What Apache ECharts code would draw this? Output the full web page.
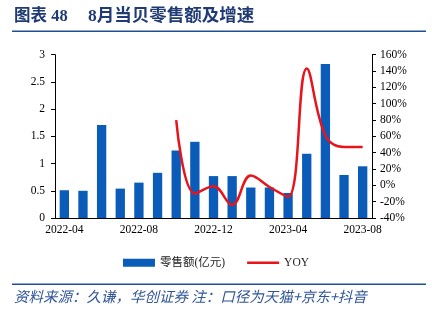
<!DOCTYPE html>
<html><head><meta charset="utf-8">
<script src="https://cdn.jsdelivr.net/npm/echarts@6/dist/echarts.min.js"></script>
<style>html,body{margin:0;padding:0;background:#fff}#c{width:432px;height:323px}</style>
</head><body><div id="c"></div>
<script>
const categories = ['2022-04','2022-05','2022-06','2022-07','2022-08','2022-09','2022-10','2022-11','2022-12','2023-01','2023-02','2023-03','2023-04','2023-05','2023-06','2023-07','2023-08'];
const sales = [0.51,0.50,1.71,0.54,0.65,0.83,1.24,1.40,0.77,0.77,0.56,0.56,0.46,1.18,2.83,0.79,0.95];
const yoy = [null,null,null,null,null,null,80,-10,-1,-24,12,-2,-14,143,61,47,47];
const leftTicks = {min:0,max:3,interval:0.5};
const rightTicks = {min:-40,max:160,interval:20};

const serif = '"Liberation Serif","Times New Roman","Noto Sans CJK SC",serif';
const blue = '#1F4E96';
const chart = echarts.init(document.getElementById('c'));
chart.setOption({
  animation:false,
  textStyle:{fontFamily:serif},
  graphic:[
    {type:'text',left:14,top:8,style:{text:'图表 48',font:'bold 16.5px "Liberation Serif","Noto Sans CJK SC",serif',fill:'#1F3A74'}},
    {type:'text',left:88,top:8,style:{text:'8月当贝零售额及增速',font:'bold 17.5px "Liberation Serif","Noto Sans CJK SC",serif',fill:'#1F3A74'}},
    {type:'rect',shape:{x:12,y:30.5,width:414,height:1.5},style:{fill:blue}},
    {type:'rect',shape:{x:12,y:283.5,width:414,height:1.5},style:{fill:blue}},
    {type:'text',left:14,top:289,style:{text:'资料来源：久谦，华创证券 注：口径为天猫+京东+抖音',font:'italic 14.5px "Noto Sans CJK SC",sans-serif',fill:'#2F5597'}}
  ],
  legend:{
    top:252,left:'center',itemGap:22,itemWidth:32,itemHeight:8,symbolKeepAspect:true,
    textStyle:{fontSize:11.5,color:'#222',fontFamily:serif},
    data:[{name:'零售额(亿元)',icon:'rect'},{name:'YOY',icon:'path://M0,0L32,0L32,2.5L0,2.5Z',itemStyle:{color:'#E8141C',borderWidth:0}}]
  },
  grid:{left:55,right:60,top:54.7,bottom:105,containLabel:false},
  xAxis:{
    type:'category',data:categories,
    axisLine:{lineStyle:{color:'#000',width:1}},
    axisTick:{interval:3,length:3,lineStyle:{color:'#000'}},
    axisLabel:{interval:3,fontSize:11.5,color:'#000',margin:6,fontFamily:serif}
  },
  yAxis:[
    {type:'value',min:leftTicks.min,max:leftTicks.max,interval:leftTicks.interval,
     splitLine:{show:false},
     axisLine:{show:true,lineStyle:{color:'#000'}},
     axisTick:{show:true,length:4,lineStyle:{color:'#000'}},
     axisLabel:{fontSize:11.5,color:'#000',margin:10,fontFamily:serif}},
    {type:'value',min:rightTicks.min,max:rightTicks.max,interval:rightTicks.interval,position:'right',
     splitLine:{show:false},
     axisLine:{show:true,lineStyle:{color:'#000'}},
     axisTick:{show:true,length:4,lineStyle:{color:'#000'}},
     axisLabel:{fontSize:11.5,color:'#000',margin:8,fontFamily:serif,formatter:'{value}%'}}
  ],
  series:[
    {name:'零售额(亿元)',type:'bar',data:sales,barWidth:'50%',itemStyle:{color:'#0B5CB8'}},
    {name:'YOY',type:'line',yAxisIndex:1,data:yoy,smooth:0.4,symbol:'none',
     lineStyle:{color:'#E8141C',width:2.5},itemStyle:{color:'#E8141C'}}
  ]
});
</script></body></html>
